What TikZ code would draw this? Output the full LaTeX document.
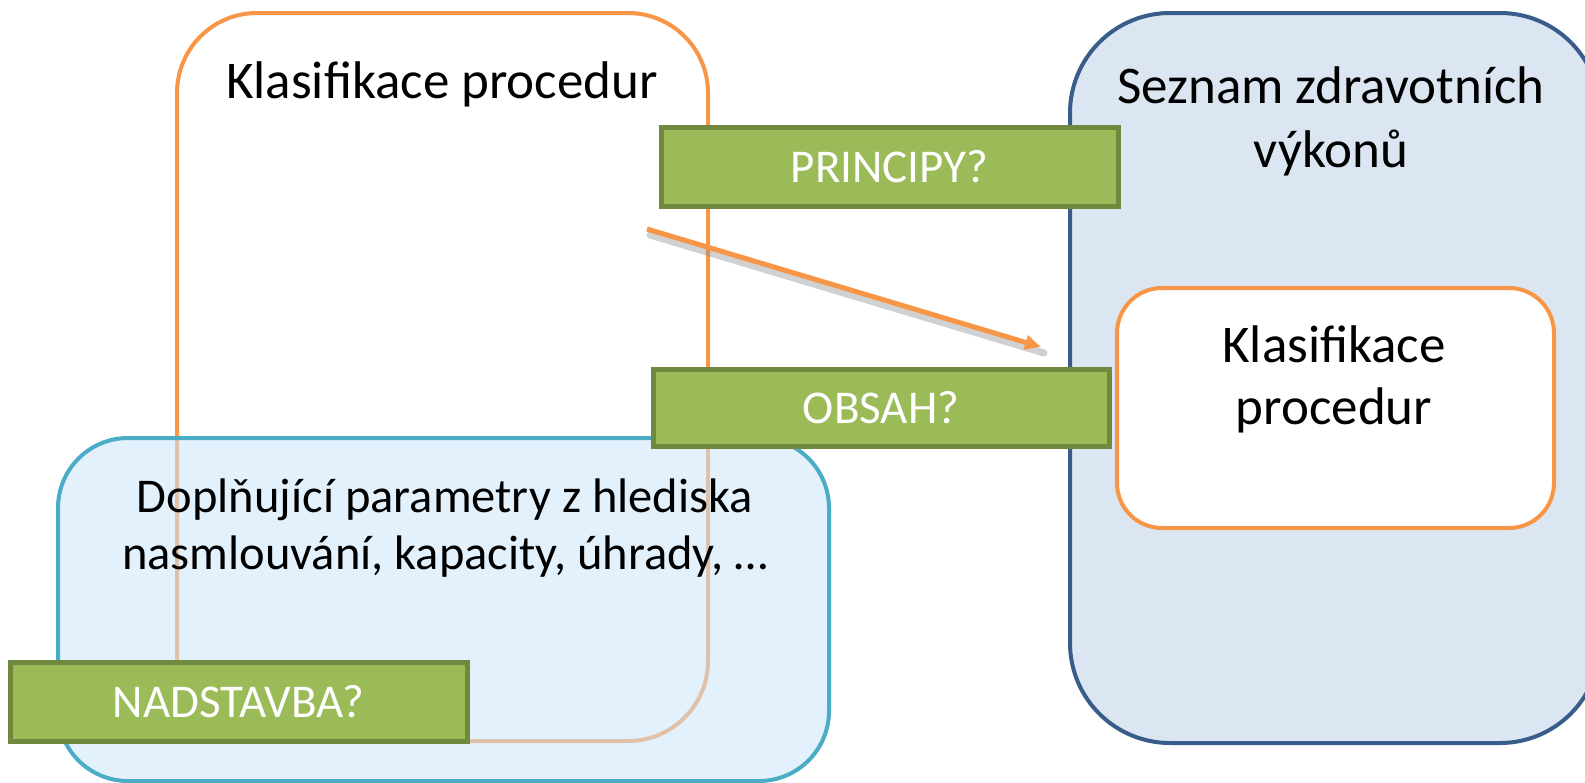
\documentclass[tikz,border=0pt]{standalone}
\usepackage{fontspec}
\setmainfont{Carlito}
\usetikzlibrary{arrows.meta}
\definecolor{ofcorange}{HTML}{F79646}
\definecolor{ofcaqua}{HTML}{4BACC6}
\definecolor{bluefill}{HTML}{CCE7FB}
\definecolor{darkblue}{HTML}{385D8A}
\definecolor{steelfill}{HTML}{DCE6F2}
\definecolor{greenfill}{HTML}{9BBB59}
\definecolor{greenline}{HTML}{71893F}
\tikzset{
  bigbox/.style={draw, line width=4pt, rectangle, inner sep=0pt},
  tag/.style={draw=greenline, fill=greenfill, line width=5pt, rectangle, inner sep=0pt,
    text=white, font=\fontsize{47}{56}\selectfont},
  title/.style={align=center, text=black, inner sep=0pt},
  conn/.style={draw=ofcorange, line width=5pt, -{Triangle[length=16pt,width=14pt]}},
}
\begin{document}
\begin{tikzpicture}[x=1pt,y=-1pt]
\useasboundingbox (0,0) rectangle (1585,782);
\fill[white] (0,0) rectangle (1585,782);
% right box
\node[bigbox, draw=darkblue, fill=steelfill, rounded corners=100pt,
  minimum width=530pt, minimum height=730pt] (seznam) at (1335,378) {};
% big orange box
\node[bigbox, draw=ofcorange, fill=white, rounded corners=80pt,
  minimum width=531pt, minimum height=728pt] (klas) at (442.5,377) {};
% blue box, semi transparent
\node[bigbox, draw=ofcaqua, fill=bluefill, fill opacity=0.55, draw opacity=1, rounded corners=70pt,
  minimum width=771pt, minimum height=343pt] (dopl) at (443.5,609.5) {};
% inner orange box
\node[bigbox, draw=ofcorange, fill=white, rounded corners=45pt,
  minimum width=437pt, minimum height=240pt] (inner) at (1335.5,408) {};
% titles
\node[title, font=\fontsize{53}{64}\selectfont] (klast) at (442,84) {Klasifikace procedur};
\node[title, font=\fontsize{53}{64}\selectfont] (seznamt) at (1331,121) {Seznam zdravotních\\výkonů};
\node[title, font=\fontsize{48.5}{57}\selectfont] (doplt) at (445,528) {Doplňující parametry z hlediska\\nasmlouvání, kapacity, úhrady, …};
\node[title, font=\fontsize{53}{62}\selectfont] (innert) at (1334,379) {Klasifikace\\procedur};
% arrow with shadow
\coordinate (a) at (647,229);
\coordinate (b) at (1041,347);
\coordinate (as) at (650,235);
\coordinate (bs) at (1044,353);
\draw[black!45, opacity=0.4, line width=7pt, line cap=round] (as) -- (bs);
\draw[conn] (a) -- (b);
% green tags
\node[tag, minimum width=457pt, minimum height=79pt] (princ) at (889.5,166.5) {PRINCIPY?};
\node[tag, minimum width=456pt, minimum height=77pt] (obsah) at (881,407.5) {OBSAH?};
\node[tag, minimum width=457pt, minimum height=79pt] (nadst) at (238.5,701.5) {NADSTAVBA?};
\end{tikzpicture}
\end{document}
